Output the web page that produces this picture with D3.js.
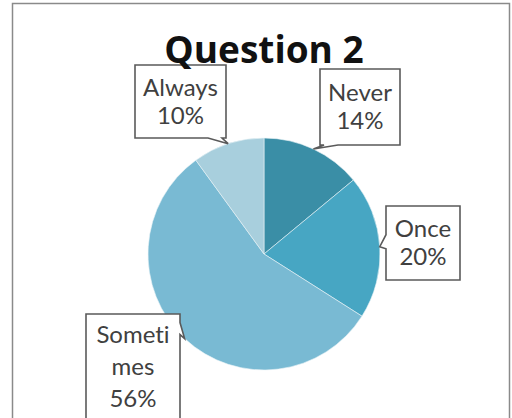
<!DOCTYPE html>
<html>
<head>
<meta charset="utf-8">
<script src="https://cdn.jsdelivr.net/npm/d3@7"></script>
<style>
  html, body { margin: 0; padding: 0; background: #fff; }
  svg { display: block; }
  text { font-variant-ligatures: none; }
</style>
</head>
<body>
<svg id="chart" width="512" height="418"></svg>
<script>
// Survey answers for question 2
const categories = ["Never", "Once", "Sometimes", "Always"];
const values = [14, 20, 56, 10];
const labelLines = [["Never"], ["Once"], ["Someti", "mes"], ["Always"]];
const colors = ["#3a8ea6", "#47a6c3", "#79bad3", "#a8cfdd"];
const title = "Question 2";

const W = 512, H = 418;
const cx = 264, cy = 254, R = 116;

// Callout boxes: x, y, w, h and the side the pointer leaves from
const boxes = [
  { x: 320, y: 69, w: 80, h: 76, side: "bottom" },
  { x: 386, y: 206, w: 74, h: 74, side: "left" },
  { x: 86, y: 314, w: 94, h: 110, side: "right" },
  { x: 135, y: 65, w: 91, h: 73, side: "bottom" }
];

const svg = d3.select("#chart");

// chart frame
svg.append("rect")
  .attr("x", 12.5).attr("y", 3.5)
  .attr("width", 497).attr("height", 430)
  .attr("fill", "#fff")
  .attr("stroke", "#8a8a8a").attr("stroke-width", 1.5);

const data = categories.map((c, i) => ({ name: c, value: values[i], lines: labelLines[i], color: colors[i], box: boxes[i] }));

const pie = d3.pie().value(d => d.value).sort(null);
const arcs = pie(data);
const arc = d3.arc().innerRadius(0).outerRadius(R);

const g = svg.append("g").attr("transform", `translate(${cx},${cy})`);
g.selectAll("path")
  .data(arcs)
  .join("path")
  .attr("d", arc)
  .attr("fill", d => d.data.color)
  .attr("stroke", "#e9f3f7")
  .attr("stroke-width", 0.6);

// pointer target on the pie edge at each slice's mid angle
function edgePoint(a) {
  const m = (a.startAngle + a.endAngle) / 2;
  return [cx + R * Math.sin(m), cy - R * Math.cos(m)];
}

function calloutPath(b, p) {
  const x0 = b.x, y0 = b.y, x1 = b.x + b.w, y1 = b.y + b.h;
  const [px, py] = p;
  const path = d3.path();
  path.moveTo(x0, y0);
  path.lineTo(x1, y0);
  if (b.side === "left") {
    path.lineTo(x1, y1);
    path.lineTo(x0, y1);
    const ya = Math.min(y1 - 4, Math.max(y0 + 4, py));
    path.lineTo(x0, ya + 2);
    path.lineTo(px, py);
    path.lineTo(x0, ya - 12);
  } else if (b.side === "right") {
    const ya = Math.max(y0 + 6, Math.min(y1 - 6, py));
    path.lineTo(x1, ya - 16);
    path.lineTo(px, py);
    path.lineTo(x1, ya - 4);
    path.lineTo(x1, y1);
    path.lineTo(x0, y1);
  } else {
    path.lineTo(x1, y1);
    const xa = Math.min(x1 - 2, Math.max(x0 + 2, px));
    if (px > (x0 + x1) / 2) {
      path.lineTo(xa - 2, y1);
      path.lineTo(px, py);
      path.lineTo(xa - 16, y1);
    } else {
      path.lineTo(xa + 16, y1);
      path.lineTo(px, py);
      path.lineTo(xa + 2, y1);
    }
    path.lineTo(x0, y1);
  }
  path.closePath();
  return path.toString();
}

const labels = svg.append("g")
  .selectAll("g")
  .data(arcs)
  .join("g");

labels.append("path")
  .attr("d", d => calloutPath(d.data.box, edgePoint(d)))
  .attr("fill", "#fff")
  .attr("stroke", "#5a5a5a")
  .attr("stroke-width", 1.6)
  .attr("stroke-linejoin", "miter");

labels.each(function(d) {
  const b = d.data.box;
  const lines = d.data.lines.concat([Math.round(d.data.value) + "%"]);
  const lineH = lines.length > 2 ? 32 : 28;
  const total = lines.length * lineH;
  const top = b.y + (b.h - total) / 2;
  const t = d3.select(this).append("text")
    .attr("text-anchor", "middle")
    .attr("font-family", "Lato, 'Open Sans', sans-serif")
    .attr("font-size", 24)
    .attr("fill", "#404040");
  lines.forEach((s, i) => {
    t.append("tspan")
      .attr("x", b.x + b.w / 2)
      .attr("y", top + i * lineH + 22)
      .text(s);
  });
});

svg.append("text")
  .attr("x", 264).attr("y", 63)
  .attr("text-anchor", "middle")
  .attr("font-family", "'Open Sans', sans-serif")
  .attr("font-weight", "bold")
  .attr("font-size", 37)
  .attr("fill", "#111")
  .text(title);
</script>
</body>
</html>
